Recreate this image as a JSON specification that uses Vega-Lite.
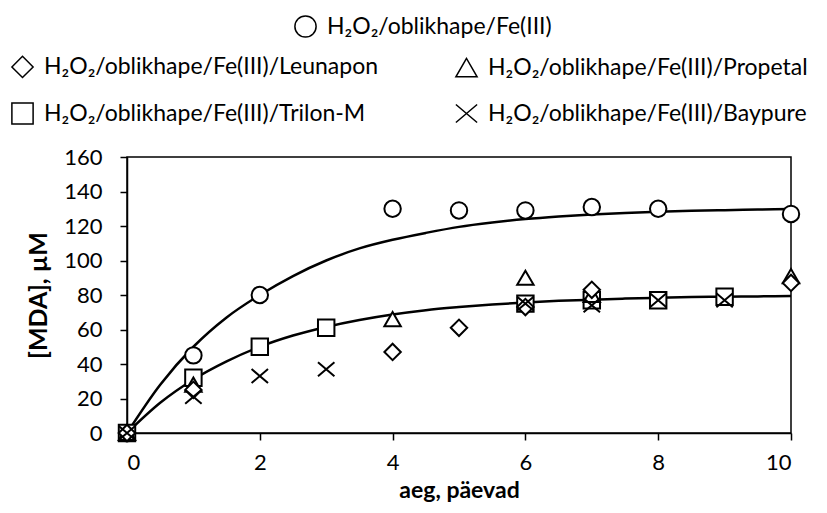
{
  "$schema": "https://vega.github.io/schema/vega-lite/v6.json",
  "autosize": "none",
  "width": 664,
  "height": 276,
  "padding": {"left": 127, "top": 157, "right": 36, "bottom": 80},
  "background": "white",
  "datasets": {
    "fits": [
      {"curve": "Fe", "day": 0, "mda": 0},
      {"curve": "Fe", "day": 0.5, "mda": 28},
      {"curve": "Fe", "day": 1, "mda": 50},
      {"curve": "Fe", "day": 1.5, "mda": 67},
      {"curve": "Fe", "day": 2, "mda": 80},
      {"curve": "Fe", "day": 2.5, "mda": 91},
      {"curve": "Fe", "day": 3, "mda": 100},
      {"curve": "Fe", "day": 3.5, "mda": 107},
      {"curve": "Fe", "day": 4, "mda": 112},
      {"curve": "Fe", "day": 4.5, "mda": 116},
      {"curve": "Fe", "day": 5, "mda": 119.5},
      {"curve": "Fe", "day": 5.5, "mda": 122},
      {"curve": "Fe", "day": 6, "mda": 124},
      {"curve": "Fe", "day": 6.5, "mda": 125.5},
      {"curve": "Fe", "day": 7, "mda": 126.7},
      {"curve": "Fe", "day": 7.5, "mda": 127.6},
      {"curve": "Fe", "day": 8, "mda": 128.3},
      {"curve": "Fe", "day": 8.5, "mda": 128.8},
      {"curve": "Fe", "day": 9, "mda": 129.2},
      {"curve": "Fe", "day": 9.5, "mda": 129.5},
      {"curve": "Fe", "day": 10, "mda": 129.8},
      {"curve": "ligand", "day": 0, "mda": 0},
      {"curve": "ligand", "day": 0.5, "mda": 17.5},
      {"curve": "ligand", "day": 1, "mda": 31},
      {"curve": "ligand", "day": 1.5, "mda": 41.5},
      {"curve": "ligand", "day": 2, "mda": 50},
      {"curve": "ligand", "day": 2.5, "mda": 56.5},
      {"curve": "ligand", "day": 3, "mda": 61.5},
      {"curve": "ligand", "day": 3.5, "mda": 65.5},
      {"curve": "ligand", "day": 4, "mda": 68.7},
      {"curve": "ligand", "day": 4.5, "mda": 71.2},
      {"curve": "ligand", "day": 5, "mda": 73},
      {"curve": "ligand", "day": 5.5, "mda": 74.5},
      {"curve": "ligand", "day": 6, "mda": 75.7},
      {"curve": "ligand", "day": 6.5, "mda": 76.6},
      {"curve": "ligand", "day": 7, "mda": 77.3},
      {"curve": "ligand", "day": 7.5, "mda": 77.9},
      {"curve": "ligand", "day": 8, "mda": 78.4},
      {"curve": "ligand", "day": 8.5, "mda": 78.8},
      {"curve": "ligand", "day": 9, "mda": 79},
      {"curve": "ligand", "day": 9.5, "mda": 79.2},
      {"curve": "ligand", "day": 10, "mda": 79.4}
    ],
    "measured": [
      {"series": "H₂O₂/oblikhape/Fe(III)", "day": 0, "mda": 0},
      {"series": "H₂O₂/oblikhape/Fe(III)", "day": 1, "mda": 45},
      {"series": "H₂O₂/oblikhape/Fe(III)", "day": 2, "mda": 80},
      {"series": "H₂O₂/oblikhape/Fe(III)", "day": 4, "mda": 130},
      {"series": "H₂O₂/oblikhape/Fe(III)", "day": 5, "mda": 129},
      {"series": "H₂O₂/oblikhape/Fe(III)", "day": 6, "mda": 129},
      {"series": "H₂O₂/oblikhape/Fe(III)", "day": 7, "mda": 131},
      {"series": "H₂O₂/oblikhape/Fe(III)", "day": 8, "mda": 130},
      {"series": "H₂O₂/oblikhape/Fe(III)", "day": 10, "mda": 127},
      {"series": "H₂O₂/oblikhape/Fe(III)/Trilon-M", "day": 0, "mda": 0},
      {"series": "H₂O₂/oblikhape/Fe(III)/Trilon-M", "day": 1, "mda": 32},
      {"series": "H₂O₂/oblikhape/Fe(III)/Trilon-M", "day": 2, "mda": 50},
      {"series": "H₂O₂/oblikhape/Fe(III)/Trilon-M", "day": 3, "mda": 61},
      {"series": "H₂O₂/oblikhape/Fe(III)/Trilon-M", "day": 6, "mda": 75},
      {"series": "H₂O₂/oblikhape/Fe(III)/Trilon-M", "day": 7, "mda": 77},
      {"series": "H₂O₂/oblikhape/Fe(III)/Trilon-M", "day": 8, "mda": 77},
      {"series": "H₂O₂/oblikhape/Fe(III)/Trilon-M", "day": 9, "mda": 79},
      {"series": "H₂O₂/oblikhape/Fe(III)/Propetal", "day": 0, "mda": 0},
      {"series": "H₂O₂/oblikhape/Fe(III)/Propetal", "day": 1, "mda": 28},
      {"series": "H₂O₂/oblikhape/Fe(III)/Propetal", "day": 4, "mda": 66},
      {"series": "H₂O₂/oblikhape/Fe(III)/Propetal", "day": 6, "mda": 90},
      {"series": "H₂O₂/oblikhape/Fe(III)/Propetal", "day": 7, "mda": 80},
      {"series": "H₂O₂/oblikhape/Fe(III)/Propetal", "day": 10, "mda": 91},
      {"series": "H₂O₂/oblikhape/Fe(III)/Leunapon", "day": 0, "mda": 0},
      {"series": "H₂O₂/oblikhape/Fe(III)/Leunapon", "day": 1, "mda": 25},
      {"series": "H₂O₂/oblikhape/Fe(III)/Leunapon", "day": 4, "mda": 47},
      {"series": "H₂O₂/oblikhape/Fe(III)/Leunapon", "day": 5, "mda": 61},
      {"series": "H₂O₂/oblikhape/Fe(III)/Leunapon", "day": 6, "mda": 73},
      {"series": "H₂O₂/oblikhape/Fe(III)/Leunapon", "day": 7, "mda": 83},
      {"series": "H₂O₂/oblikhape/Fe(III)/Leunapon", "day": 10, "mda": 87},
      {"series": "H₂O₂/oblikhape/Fe(III)/Baypure", "day": 0, "mda": 0},
      {"series": "H₂O₂/oblikhape/Fe(III)/Baypure", "day": 1, "mda": 21},
      {"series": "H₂O₂/oblikhape/Fe(III)/Baypure", "day": 2, "mda": 33},
      {"series": "H₂O₂/oblikhape/Fe(III)/Baypure", "day": 3, "mda": 37},
      {"series": "H₂O₂/oblikhape/Fe(III)/Baypure", "day": 6, "mda": 75},
      {"series": "H₂O₂/oblikhape/Fe(III)/Baypure", "day": 7, "mda": 74},
      {"series": "H₂O₂/oblikhape/Fe(III)/Baypure", "day": 8, "mda": 77},
      {"series": "H₂O₂/oblikhape/Fe(III)/Baypure", "day": 9, "mda": 77}
    ]
  },
  "encoding": {
    "x": {
      "field": "day",
      "type": "quantitative",
      "scale": {"domain": [0, 10], "nice": false, "zero": false},
      "axis": {"title": "aeg, päevad", "values": [0, 2, 4, 6, 8, 10], "labelPadding": 12, "titlePadding": 6, "titleFontSize": 23}
    },
    "y": {
      "field": "mda",
      "type": "quantitative",
      "scale": {"domain": [0, 160], "nice": false},
      "axis": {"title": "[MDA], µM", "values": [0, 20, 40, 60, 80, 100, 120, 140, 160], "labelPadding": 18, "titlePadding": 12, "titleFontSize": 25}
    }
  },
  "layer": [
    {
      "data": {"name": "fits"},
      "mark": {"type": "line", "color": "black", "strokeWidth": 2.5, "interpolate": "monotone"},
      "encoding": {"detail": {"field": "curve"}}
    },
    {
      "data": {"name": "measured"},
      "transform": [{"filter": "datum.series === 'H₂O₂/oblikhape/Fe(III)'"}],
      "mark": {"type": "point", "filled": true, "fill": "white", "stroke": "black", "strokeWidth": 2, "size": 270, "opacity": 1},
      "encoding": {
        "shape": {
          "field": "series",
          "type": "nominal",
          "scale": {"domain": ["H₂O₂/oblikhape/Fe(III)"], "range": ["circle"]},
          "legend": {
            "title": null,
            "orient": "none",
            "legendX": 167,
            "legendY": -142,
            "encode": {
              "symbols": {"update": {"stroke": {"value": "black"}, "fill": {"value": "white"}, "strokeWidth": {"value": 2.2}, "opacity": {"value": 1}}}
            }
          }
        }
      }
    },
    {
      "data": {"name": "measured"},
      "transform": [{"filter": "datum.series !== 'H₂O₂/oblikhape/Fe(III)'"}],
      "mark": {"type": "point", "filled": true, "fill": "white", "stroke": "black", "strokeWidth": 2, "size": 270, "opacity": 1},
      "encoding": {
        "shape": {
          "field": "series",
          "type": "nominal",
          "scale": {
            "domain": [
              "H₂O₂/oblikhape/Fe(III)/Leunapon",
              "H₂O₂/oblikhape/Fe(III)/Trilon-M",
              "H₂O₂/oblikhape/Fe(III)/Propetal",
              "H₂O₂/oblikhape/Fe(III)/Baypure"
            ],
            "range": ["diamond", "square", "triangle-up", "M-1,-0.85L1,0.85M-1,0.85L1,-0.85"]
          },
          "legend": {
            "title": null,
            "orient": "none",
            "legendX": -116,
            "legendY": -102,
            "columns": 2,
            "columnPadding": 73,
            "rowPadding": 18,
            "encode": {
              "symbols": {"update": {"stroke": {"value": "black"}, "fill": {"value": "white"}, "strokeWidth": {"value": 2.2}, "opacity": {"value": 1}}}
            }
          }
        }
      }
    }
  ],
  "resolve": {"scale": {"shape": "independent"}, "legend": {"shape": "independent"}},
  "config": {
    "font": "Lato",
    "view": {"stroke": "black", "strokeWidth": 1.5},
    "axis": {
      "grid": false,
      "domainColor": "black",
      "domainWidth": 1.5,
      "tickColor": "black",
      "tickWidth": 1.5,
      "tickSize": 7,
      "labelFont": "Lato",
      "labelFontSize": 22,
      "labelColor": "black",
      "titleFont": "Lato",
      "titleFontWeight": "bold",
      "titleColor": "black"
    },
    "legend": {
      "padding": 0,
      "labelFont": "Lato",
      "labelFontSize": 23,
      "labelColor": "black",
      "labelLimit": 500,
      "labelOffset": 10,
      "symbolSize": 450
    }
  }
}
